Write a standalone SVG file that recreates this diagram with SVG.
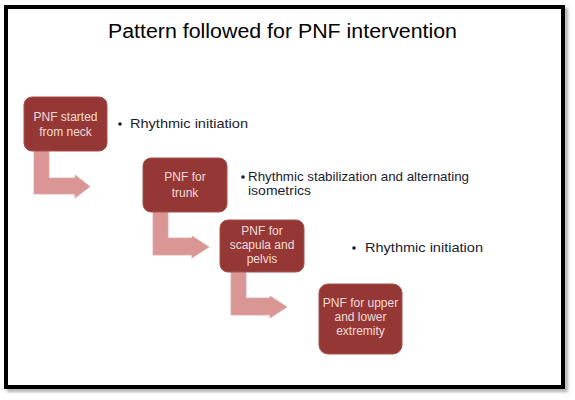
<svg xmlns="http://www.w3.org/2000/svg" width="575" height="400" viewBox="0 0 575 400">
  <defs>
    <style>
      .box { fill: #953735; stroke: #a5504e; stroke-width: 1; }
      .arrow { fill: #d99694; stroke: #e0a8a6; stroke-width: 0.8; }
      .btxt { font-family: "Liberation Sans", Arial, sans-serif; font-size: 12px; fill: #f2dcdb; text-anchor: middle; }
      .bul { font-family: "Liberation Sans", Arial, sans-serif; font-size: 13px; fill: #1c1c30; }
      .dot { fill: #1c1c30; }
      .title { font-family: "Liberation Sans", Arial, sans-serif; font-size: 20px; fill: #000000; }
    </style>
    <filter id="sh" x="-5%" y="-5%" width="110%" height="110%">
      <feGaussianBlur stdDeviation="1.5"/>
    </filter>
  </defs>
  <rect x="0" y="0" width="575" height="400" fill="#ffffff"/>
  <g id="frame">
    <rect x="9" y="10" width="557" height="380" fill="none" stroke="#b0b0b0" stroke-width="4" filter="url(#sh)"/>
    <rect x="6" y="7" width="557" height="380" fill="#ffffff" stroke="#000000" stroke-width="4"/>
  </g>
  <g id="title">
    <text class="title" x="108" y="38" textLength="349" lengthAdjust="spacingAndGlyphs">Pattern followed for PNF intervention</text>
  </g>
  <g id="connectors">
    <path class="arrow" d="M34,151 L49,151 L49,178 L75,178 L75,175 L90,186.5 L75,198 L75,194 L34,194 Z"/>
    <path class="arrow" d="M153,212 L168,212 L168,238 L192,238 L192,236 L209,247 L192,258 L192,255 L153,255 Z"/>
    <path class="arrow" d="M231,272 L246,272 L246,298 L270,298 L270,296 L287,307 L270,318 L270,315 L231,315 Z"/>
  </g>
  <g id="node1">
    <rect class="box" x="24" y="97" width="83" height="54" rx="8"/>
    <text class="btxt" x="65.5" y="121">PNF started</text>
    <text class="btxt" x="65.5" y="136">from neck</text>
  </g>
  <g id="node2">
    <rect class="box" x="143" y="158" width="84" height="54" rx="8"/>
    <text class="btxt" x="185" y="181">PNF for</text>
    <text class="btxt" x="185" y="197">trunk</text>
  </g>
  <g id="node3">
    <rect class="box" x="220" y="220" width="84" height="52" rx="8"/>
    <text class="btxt" x="262" y="235">PNF for</text>
    <text class="btxt" x="262" y="249">scapula and</text>
    <text class="btxt" x="262" y="263">pelvis</text>
  </g>
  <g id="node4">
    <rect class="box" x="319" y="284" width="83" height="70" rx="9"/>
    <text class="btxt" x="360.5" y="307">PNF for upper</text>
    <text class="btxt" x="360.5" y="321">and lower</text>
    <text class="btxt" x="360.5" y="335">extremity</text>
  </g>
  <g id="bullet1">
    <circle class="dot" cx="120" cy="124" r="1.8"/>
    <text class="bul" x="130" y="128" textLength="118" lengthAdjust="spacingAndGlyphs">Rhythmic initiation</text>
  </g>
  <g id="bullet2">
    <circle class="dot" cx="243" cy="177" r="1.8"/>
    <text class="bul" x="248" y="181" textLength="221" lengthAdjust="spacingAndGlyphs">Rhythmic stabilization and alternating</text>
    <text class="bul" x="248" y="195" textLength="63" lengthAdjust="spacingAndGlyphs">isometrics</text>
  </g>
  <g id="bullet3">
    <circle class="dot" cx="354" cy="248" r="1.8"/>
    <text class="bul" x="365" y="252" textLength="118" lengthAdjust="spacingAndGlyphs">Rhythmic initiation</text>
  </g>
</svg>
